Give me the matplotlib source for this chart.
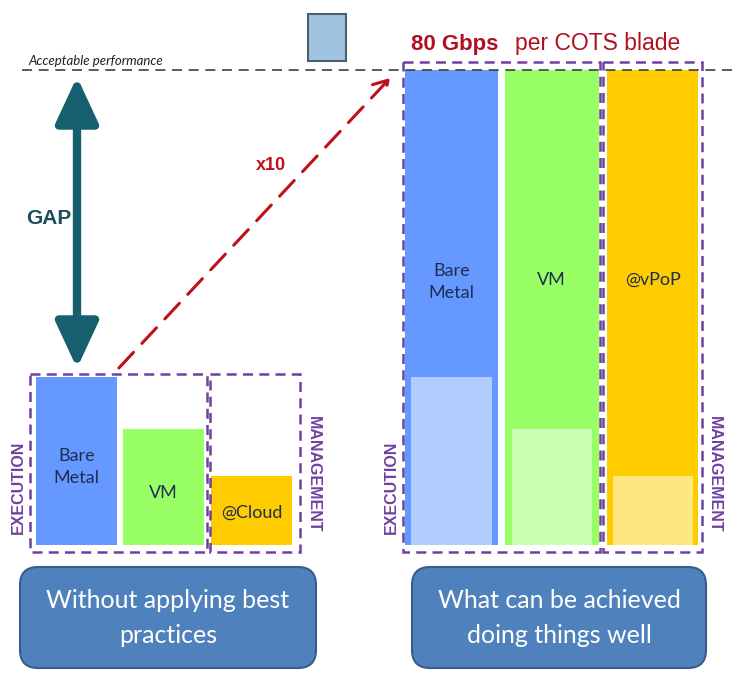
import matplotlib
matplotlib.use('Agg')
import matplotlib.pyplot as plt
from matplotlib.patches import FancyBboxPatch, Rectangle, FancyArrowPatch

W, H = 738, 687

# data (Gbps)
categories = ["Bare\nMetal", "VM", "@Cloud"]
best_labels = ["Bare\nMetal", "VM", "@vPoP"]
without_best = [28.3, 19.5, 11.6]
with_best = [80, 80, 80]
target = 80

BASE_PX = 545
TOP_PX = 70

fig = plt.figure(figsize=(W / 100, H / 100), dpi=100)

# bars axes: Gbps on y
bx = fig.add_axes([0, (H - BASE_PX) / H, 1, (BASE_PX - TOP_PX) / H])
bx.set_xlim(0, W)
bx.set_ylim(0, target)
bx.axis('off')
bx.set_zorder(1)

# overlay in pixel coordinates
ax = fig.add_axes([0, 0, 1, 1])
ax.set_xlim(0, W)
ax.set_ylim(H, 0)
ax.axis('off')
ax.set_zorder(2)
ax.patch.set_alpha(0)

colors = ["#6699ff", "#99ff66", "#ffcc00"]
light = ["#b3ccff", "#ccffb3", "#ffe680"]
text_col = "#1f2d50"
purple = "#7040a0"

left_x = [76.5, 163.5, 251.5]
left_w = [81, 81, 81]
right_x = [451.5, 551.5, 652.5]
right_w = [93, 94, 91]
inner_w = [81, 80, 80]

bx.bar(left_x, without_best, width=left_w, color=colors, zorder=2)
bx.bar(right_x, with_best, width=right_w, color=colors, zorder=2)
bx.bar(right_x, without_best, width=inner_w, color=light, zorder=3)

lab_font = dict(family="Lato", fontsize=13, color=text_col, ha='center', va='center')
label_y = [467, 493, 513]
for x, lab, y in zip(left_x, categories, label_y):
    ax.text(x, y, lab, linespacing=1.5, **lab_font)
for x, lab in zip(right_x, best_labels):
    ax.text(x, 282 if "\n" in lab else 280, lab, linespacing=1.5, **lab_font)

# dashed purple groups
boxes = [(30, 374, 207, 552), (210, 374, 300, 552), (403, 62, 600, 552), (603, 62, 702, 552)]
for x0, y0, x1, y1 in boxes:
    ax.add_patch(Rectangle((x0, y0), x1 - x0, y1 - y0, fill=False, edgecolor=purple,
                           lw=1.8, ls=(0, (4, 2.5)), zorder=4))

grp_font = dict(family="Liberation Sans", fontweight='bold', fontsize=11.5, color=purple,
                ha='center', va='center')
ax.text(18, 487, "EXECUTION", rotation=90, **grp_font)
ax.text(391, 487, "EXECUTION", rotation=90, **grp_font)
ax.text(313, 474, "MANAGEMENT", rotation=-90, **grp_font)
ax.text(714, 474, "MANAGEMENT", rotation=-90, **grp_font)

# acceptable performance line
ax.plot([22, W], [TOP_PX, TOP_PX], color="#404040", lw=1.2, ls=(0, (6, 4)), zorder=5)
ax.text(28, 61, "Acceptable performance", family="Lato", style='italic', fontsize=9.5,
        color="#202020", va='center')

# small square
ax.add_patch(Rectangle((308, 14), 38, 47, facecolor="#9fc3e0", edgecolor="#4a5f70", lw=1.5))

# title
ax.text(411, 50, "80 Gbps", family="Liberation Sans", fontweight='bold', fontsize=16,
        color="#b01020", va='baseline')
ax.text(515, 50, "per COTS blade", family="Liberation Sans", fontsize=16.5,
        color="#b01020", va='baseline')

# GAP arrow
teal = "#165f6e"
ax.add_patch(FancyArrowPatch((77, 74), (77, 371), arrowstyle='<|-|>,head_length=28,head_width=13',
                             mutation_scale=1, lw=6, color=teal, zorder=6))
ax.text(49, 219, "GAP", family="Liberation Sans", fontweight='bold', fontsize=15,
        color="#1e4d5c", ha='center', va='center')

# x10 arrow
red = "#c0101a"
ax.add_patch(FancyArrowPatch((117, 370), (392, 76), arrowstyle='->,head_length=10,head_width=6',
                             mutation_scale=1, lw=2.2, ls=(0, (7, 4)), color=red, zorder=6))
ax.text(271, 165, "x10", family="Liberation Sans", fontweight='bold', fontsize=13,
        color=red, ha='center', va='center')

# bottom captions
captions = [(20, 316, "Without applying best\npractices"), (412, 706, "What can be achieved\ndoing things well")]
for x0, x1, txt in captions:
    ax.add_patch(FancyBboxPatch((x0, 567), x1 - x0, 101, boxstyle="round,pad=0,rounding_size=18",
                                facecolor="#4f81bd", edgecolor="#385d8a", lw=1.5))
    ax.text((x0 + x1) / 2, 618, txt, family="Lato", fontsize=18, color="white",
            ha='center', va='center', linespacing=1.6)

fig.savefig("out.png", dpi=100)
